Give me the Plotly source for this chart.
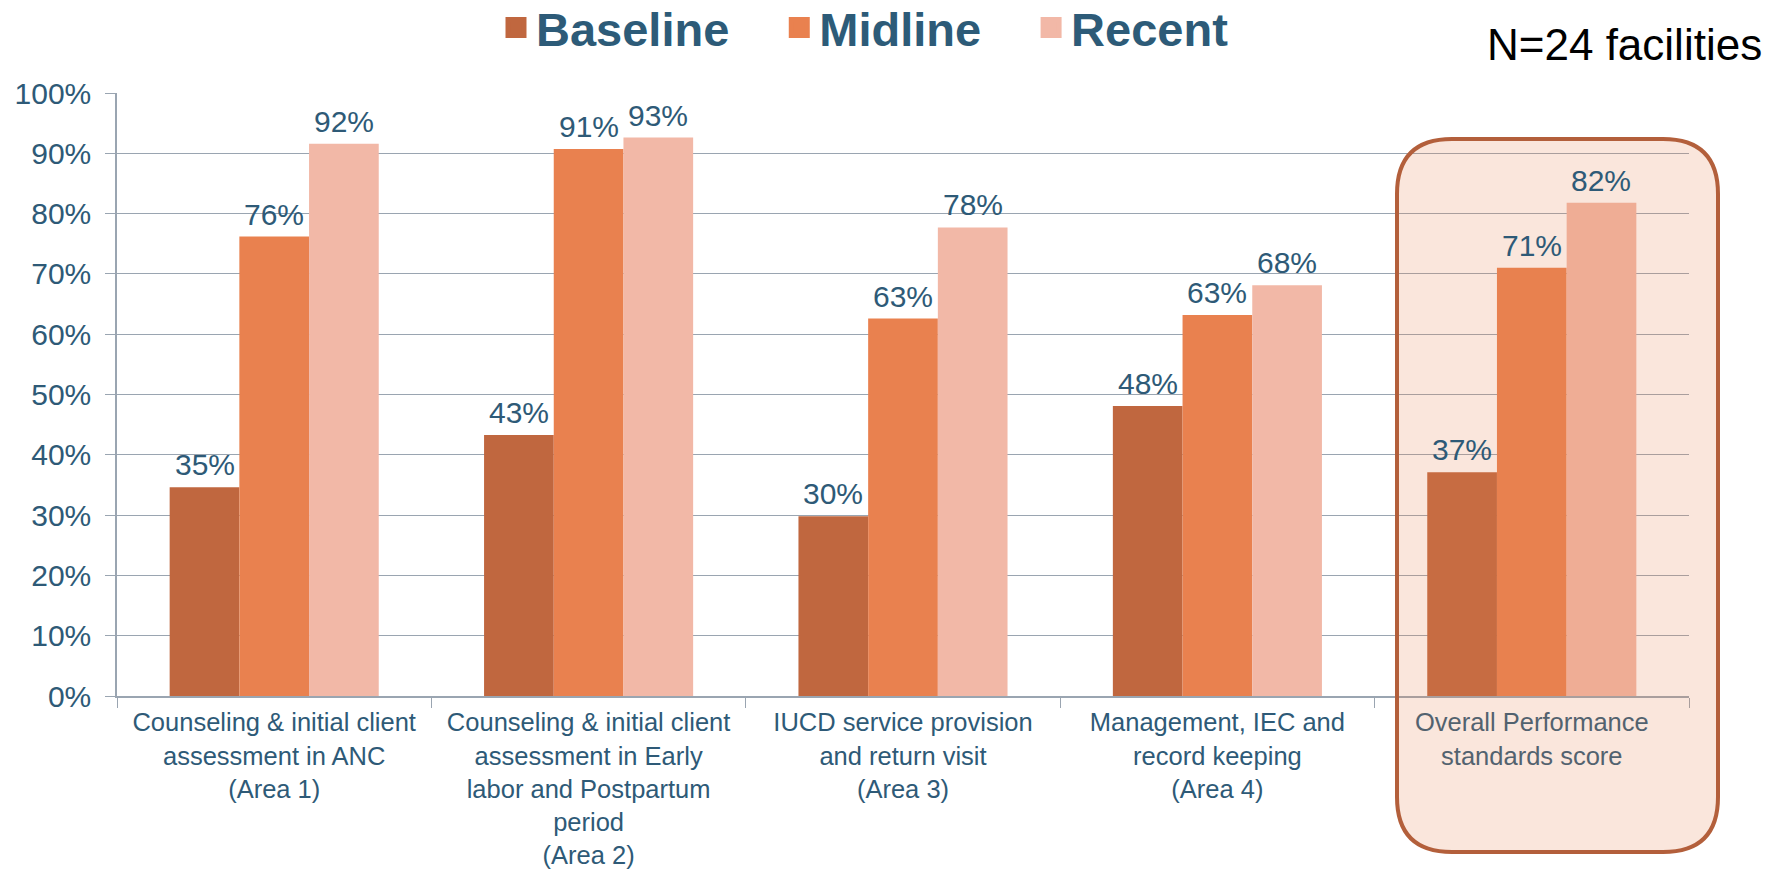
import plotly.graph_objects as go

categories = [
    "Counseling & initial client<br>assessment in ANC<br>(Area 1)",
    "Counseling & initial client<br>assessment in Early<br>labor and Postpartum<br>period<br>(Area 2)",
    "IUCD service provision<br>and return visit<br>(Area 3)",
    "Management, IEC and<br>record keeping<br>(Area 4)",
    "Overall Performance<br>standards score",
]
series_names = ["Baseline", "Midline", "Recent"]
baseline = [34.6, 43.3, 29.8, 48.1, 37.1]
midline = [76.2, 90.7, 62.6, 63.2, 71.0]
recent = [91.6, 92.6, 77.7, 68.1, 81.8]
labels_baseline = ["35%", "43%", "30%", "48%", "37%"]
labels_midline = ["76%", "91%", "63%", "63%", "71%"]
labels_recent = ["92%", "93%", "78%", "68%", "82%"]
y_tickvals = [0, 10, 20, 30, 40, 50, 60, 70, 80, 90, 100]
y_ticktext = ["0%", "10%", "20%", "30%", "40%", "50%", "60%", "70%", "80%", "90%", "100%"]

colors = ["#C0673F", "#E9814F", "#F2B8A7"]
FONT = "Liberation Sans, Arial, sans-serif"
TXT = "#2E5A77"
GRID = "#9AA5B1"

W, H = 1781, 871
ML, MT = 117, 93
MR = W - 1689
MB = H - 696
PW, PH = W - ML - MR, H - MT - MB
BARGAP = 0.335
bar_px = PW / len(categories) * (1 - BARGAP) / len(series_names)

fig = go.Figure()
all_vals = [baseline, midline, recent]
all_labs = [labels_baseline, labels_midline, labels_recent]
for i, (name, vals, labs, col) in enumerate(zip(series_names, all_vals, all_labs, colors)):
    fig.add_trace(go.Bar(
        x=categories, y=vals, name=name, marker=dict(color=col, line=dict(width=0)),
        showlegend=False, hoverinfo="x+y",
    ))
    pad = "\u00a0\u00a0\u2009\u2009" if i < len(series_names) - 1 else ""
    fig.add_trace(go.Scatter(
        x=[None], y=[None], mode="markers", name=name + pad,
        marker=dict(symbol="square", size=16, color=col, line=dict(color=col, width=5)),
        showlegend=True,
    ))
    for c, v, t in zip(categories, vals, labs):
        fig.add_annotation(
            x=c, y=v, text=t, showarrow=False, xref="x", yref="y",
            xanchor="center", yanchor="bottom",
            xshift=(i - 1) * bar_px, yshift=4,
            font=dict(family=FONT, size=30, color=TXT),
        )


def px2x(px):
    return (px - ML) / PW


def px2y(py):
    return (H - MB - py) / PH


# rounded highlight box around the "Overall" category (page pixels -> paper)
bx0, bx1, by0, by1, r = 1397, 1718, 139, 852, 55


def P(x, y):
    return f"{px2x(x):.5f},{px2y(y):.5f}"


path = (
    f"M {P(bx0 + r, by0)} L {P(bx1 - r, by0)} Q {P(bx1, by0)} {P(bx1, by0 + r)} "
    f"L {P(bx1, by1 - r)} Q {P(bx1, by1)} {P(bx1 - r, by1)} "
    f"L {P(bx0 + r, by1)} Q {P(bx0, by1)} {P(bx0, by1 - r)} "
    f"L {P(bx0, by0 + r)} Q {P(bx0, by0)} {P(bx0 + r, by0)} Z"
)
fig.add_shape(type="path", xref="paper", yref="paper", path=path,
              fillcolor="rgba(228,128,82,0.2)", line=dict(color="#B35F3B", width=4),
              layer="above")

fig.add_annotation(text="N=24 facilities", xref="paper", yref="paper",
                   x=px2x(1764), y=px2y(44), xanchor="right", yanchor="middle",
                   showarrow=False, font=dict(family=FONT, size=44, color="#000000"))

fig.update_layout(
    width=W, height=H,
    margin=dict(l=ML, r=MR, t=MT, b=MB, autoexpand=False),
    paper_bgcolor="white", plot_bgcolor="white",
    barmode="group", bargap=BARGAP, bargroupgap=0,
    font=dict(family=FONT, color=TXT),
    legend=dict(orientation="h", xref="paper", x=px2x(496), xanchor="left",
                yref="container", y=1 - 28 / H, yanchor="middle",
                font=dict(family=FONT, size=47, color="#2D5B78", weight="bold"),
                itemsizing="trace", itemwidth=30, tracegroupgap=0,
                bgcolor="rgba(0,0,0,0)"),
    xaxis=dict(
        tickson="boundaries", ticks="outside", ticklen=10, tickcolor=GRID,
        showline=True, linecolor=GRID, linewidth=1.5,
        tickfont=dict(family=FONT, size=25.5, color=TXT), showgrid=False,
        ticklabelstandoff=3, range=[-0.5, 4.5],
    ),
    yaxis=dict(
        range=[0, 100], tickvals=y_tickvals, ticktext=y_ticktext,
        ticks="outside", ticklen=10, tickcolor=GRID,
        showline=True, linecolor=GRID, linewidth=1.5,
        showgrid=True, gridcolor=GRID, gridwidth=1.2,
        tickfont=dict(family=FONT, size=30, color=TXT),
        ticklabelstandoff=8, zeroline=False,
    ),
)

fig.write_html("out.html", config={"displayModeBar": False},
               post_script="document.body.style.margin='0px';")
